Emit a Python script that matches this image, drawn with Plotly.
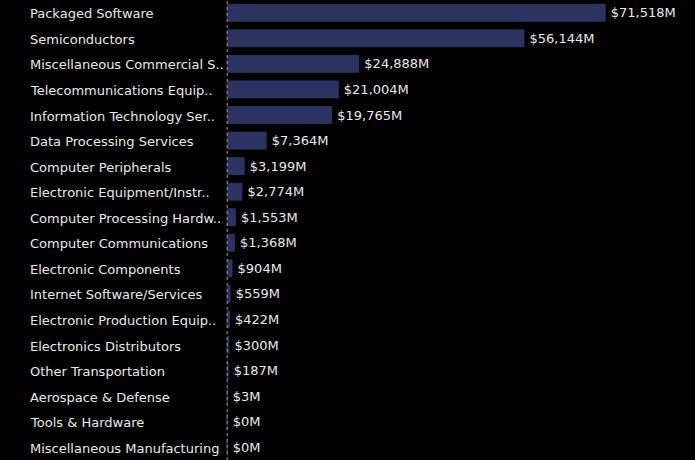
import plotly.graph_objects as go

categories = [
    "Packaged Software", "Semiconductors", "Miscellaneous Commercial S..",
    "Telecommunications Equip..", "Information Technology Ser..",
    "Data Processing Services", "Computer Peripherals",
    "Electronic Equipment/Instr..", "Computer Processing Hardw..",
    "Computer Communications", "Electronic Components",
    "Internet Software/Services", "Electronic Production Equip..",
    "Electronics Distributors", "Other Transportation",
    "Aerospace & Defense", "Tools & Hardware", "Miscellaneous Manufacturing",
]
values = [71518, 56144, 24888, 21004, 19765, 7364, 3199, 2774, 1553,
          1368, 904, 559, 422, 300, 187, 3, 0, 0]
value_labels = ["$71,518M", "$56,144M", "$24,888M", "$21,004M", "$19,765M",
                "$7,364M", "$3,199M", "$2,774M", "$1,553M", "$1,368M",
                "$904M", "$559M", "$422M", "$300M", "$187M", "$3M", "$0M", "$0M"]

W, H = 695, 460
L = 226
plot_w = W - L
font = "DejaVu Sans"
k = 378.0 / 71518  # px per unit
x0 = -1.2 / k
x1 = x0 + plot_w / k

fig = go.Figure(go.Bar(
    x=values, y=categories, orientation="h",
    marker=dict(color="#2C3360", line=dict(color="#2C3360", width=1)),
    text=value_labels, texttemplate="\u2009%{text}", textposition="outside",
    cliponaxis=False,
    textfont=dict(color="#EAEAEA", size=13, family=font),
    hoverinfo="skip",
))

for c in categories:
    fig.add_annotation(
        x=(29 - L) / plot_w, xref="paper", y=c, yref="y",
        text=c, showarrow=False, xanchor="left", yanchor="middle",
        xshift=-1, yshift=-1,
        font=dict(color="#EAEAEA", size=13, family=font),
    )

fig.add_shape(type="line", x0=0, x1=0, xref="x", y0=0, y1=1, yref="paper",
              line=dict(color="#999999", width=1, dash="dot"))

fig.update_layout(
    width=W, height=H,
    paper_bgcolor="#000000", plot_bgcolor="#000000",
    margin=dict(l=L, r=0, t=0, b=0),
    bargap=0.34, showlegend=False,
    xaxis=dict(range=[x0, x1], showgrid=False, zeroline=False,
               showticklabels=False, fixedrange=True),
    yaxis=dict(autorange="reversed", showticklabels=False, showgrid=False,
               zeroline=False, fixedrange=True),
    font=dict(family=font),
)

fig.write_html(
    "out.html",
    config={"displayModeBar": False},
    post_script="document.body.style.margin='0';document.body.style.background='#000';",
)
